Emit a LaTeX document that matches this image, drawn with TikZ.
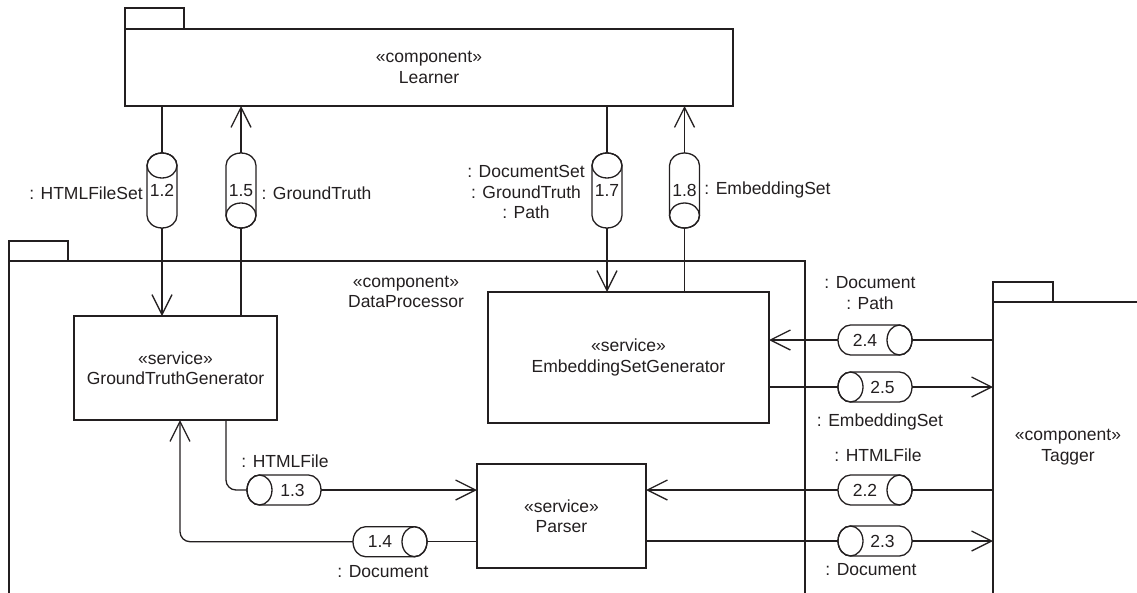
\documentclass[tikz,border=0pt]{standalone}
\usepackage{fontspec}
\setmainfont{Liberation Sans}
\usetikzlibrary{arrows.meta}
\definecolor{ink}{HTML}{231F20}
\newcommand\cylOutlineH[1]{%
  \draw[line] ([xshift=12.5pt]#1.north west) -- ([xshift=-12.5pt]#1.north east)
    arc[start angle=90, end angle=-90, x radius=12.5pt, y radius=15pt]
    -- ([xshift=12.5pt]#1.south west)
    arc[start angle=270, end angle=90, x radius=12.5pt, y radius=15pt] -- cycle;}
\newcommand\cylCapRight[1]{\cylOutlineH{#1}\draw[line] ([xshift=-12.5pt]#1.east) ellipse[x radius=12.5pt, y radius=15pt];}
\newcommand\cylCapLeft[1]{\cylOutlineH{#1}\draw[line] ([xshift=12.5pt]#1.west) ellipse[x radius=12.5pt, y radius=15pt];}
\newcommand\cylOutlineV[1]{%
  \draw[line] ([yshift=-12.5pt]#1.north west)
    arc[start angle=180, end angle=0, x radius=15pt, y radius=12.5pt]
    -- ([yshift=12.5pt]#1.south east)
    arc[start angle=0, end angle=-180, x radius=15pt, y radius=12.5pt] -- cycle;}
\newcommand\cylCapTop[1]{\cylOutlineV{#1}\draw[line] ([yshift=-12.5pt]#1.north) ellipse[x radius=15pt, y radius=12.5pt];}
\newcommand\cylCapBottom[1]{\cylOutlineV{#1}\draw[line] ([yshift=12.5pt]#1.south) ellipse[x radius=15pt, y radius=12.5pt];}
\begin{document}
\begin{tikzpicture}[x=1pt,y=-1pt,
  every node/.style={text=ink, font=\fontsize{17.5}{20.5}\selectfont},
  line/.style={draw=ink, line width=1.3pt},
  arr/.style={line, -{Straight Barb[length=20pt,width=20pt,line width=1.3pt]}},
  box/.style={line, rectangle, inner sep=0pt, outer sep=0pt, align=center},
  cyl/.style={rectangle, inner sep=0pt, outer sep=0pt},
  hcyl/.style={cyl, minimum width=74pt, minimum height=30pt},
  vcyl/.style={cyl, minimum width=30pt, minimum height=75pt},
  lbl/.style={inner sep=0pt, align=center},
]
\path[use as bounding box] (0,0) rectangle (1137,592);
\clip (0,0) rectangle (1137,592);

% packages
\node[box, minimum width=608pt, minimum height=77pt] (learner) at (429,67.5) {«component»\\Learner};
\draw[line] (learner.north west) -- ++(0,-21) -- ++(59,0) -- ++(0,21);

\node[box, minimum width=796pt, minimum height=440pt] (dp) at (407,481) {};
\draw[line] (dp.north west) -- ++(0,-20) -- ++(59,0) -- ++(0,20);
\node[lbl] (dpname) at (406,292) {«component»\\DataProcessor};

\node[box, minimum width=300pt, minimum height=400pt] (tagger) at (1143,502) {};
\draw[line] (tagger.north west) -- ++(0,-20) -- ++(60,0) -- ++(0,20);
\node[lbl] (tagname) at (1068,447) {«component»\\Tagger};

% services
\node[box, fill=white, minimum width=203pt, minimum height=104pt] (gtg) at (175.5,368) {«service»\\GroundTruthGenerator};
\node[box, fill=white, minimum width=281pt, minimum height=131pt] (esg) at (628.5,357.5) {«service»\\EmbeddingSetGenerator};
\node[box, fill=white, minimum width=169pt, minimum height=104pt] (parser) at (561.5,516) {«service»\\Parser};

% cylinders
\node[vcyl] (c12) at (162,190.5) {1.2};
\node[vcyl] (c15) at (241,190.5) {1.5};
\node[vcyl] (c17) at (607,190.5) {1.7};
\node[vcyl] (c18) at (684.5,190.5) {1.8};
\node[hcyl] (c24) at (875,340) {2.4\hspace*{20pt}};
\node[hcyl] (c25) at (875,387) {\hspace*{15pt}2.5};
\node[hcyl] (c22) at (875,490) {2.2\hspace*{20pt}};
\node[hcyl] (c23) at (875,541) {\hspace*{15pt}2.3};
\node[hcyl] (c13) at (284,490) {\hspace*{17pt}1.3};
\node[hcyl] (c14) at (390,541.7) {1.4\hspace*{20pt}};
\cylCapTop{c12}
\cylCapBottom{c15}
\cylCapTop{c17}
\cylCapBottom{c18}
\cylCapRight{c24}
\cylCapLeft{c25}
\cylCapRight{c22}
\cylCapLeft{c23}
\cylCapLeft{c13}
\cylCapRight{c14}

% labels
\node[lbl] (l12) at (86,193) {: HTMLFileSet};
\node[lbl] (l15) at (316.5,193) {: GroundTruth};
\node[lbl] (l17) at (526,192) {: DocumentSet\\: GroundTruth\\: Path};
\node[lbl] (l18) at (767.5,190) {: EmbeddingSet};
\node[lbl] (l24) at (870,293) {: Document\\: Path};
\node[lbl] (l25) at (880,422) {: EmbeddingSet};
\node[lbl] (l22) at (878,455) {: HTMLFile};
\node[lbl] (l23) at (871,570) {: Document};
\node[lbl] (l13) at (285,461) {: HTMLFile};
\node[lbl] (l14) at (383,572) {: Document};

% connectors
\draw[line] (learner.south -| c12) -- (c12);
\draw[arr] (c12) -- (gtg.north -| c12);
\draw[line] (gtg.north -| c15) -- (c15);
\draw[arr] (c15) -- (learner.south -| c15);
\draw[line] (learner.south -| c17) -- (c17);
\draw[arr] (c17) -- (esg.north -| c17);
\draw[line] (esg.north -| c18) -- (c18);
\draw[arr] (c18) -- (learner.south -| c18);

\draw[line] (tagger.west |- c24) -- (c24);
\draw[arr] (c24) -- (esg.east |- c24);
\draw[line] (esg.east |- c25) -- (c25);
\draw[arr] (c25) -- (tagger.west |- c25);
\draw[line] (tagger.west |- c22) -- (c22);
\draw[arr] (c22) -- (parser.east |- c22);
\draw[line] (parser.east |- c23) -- (c23);
\draw[arr] (c23) -- (tagger.west |- c23);

\draw[line, rounded corners=10pt] ([xshift=50.5pt]gtg.south) |- (c13.west);
\draw[arr] (c13) -- (parser.west |- c13);
\draw[line] (parser.west |- c14) -- (c14);
\draw[arr, rounded corners=10pt] (c14.west) -| ([xshift=4.5pt]gtg.south);
\end{tikzpicture}
\end{document}
